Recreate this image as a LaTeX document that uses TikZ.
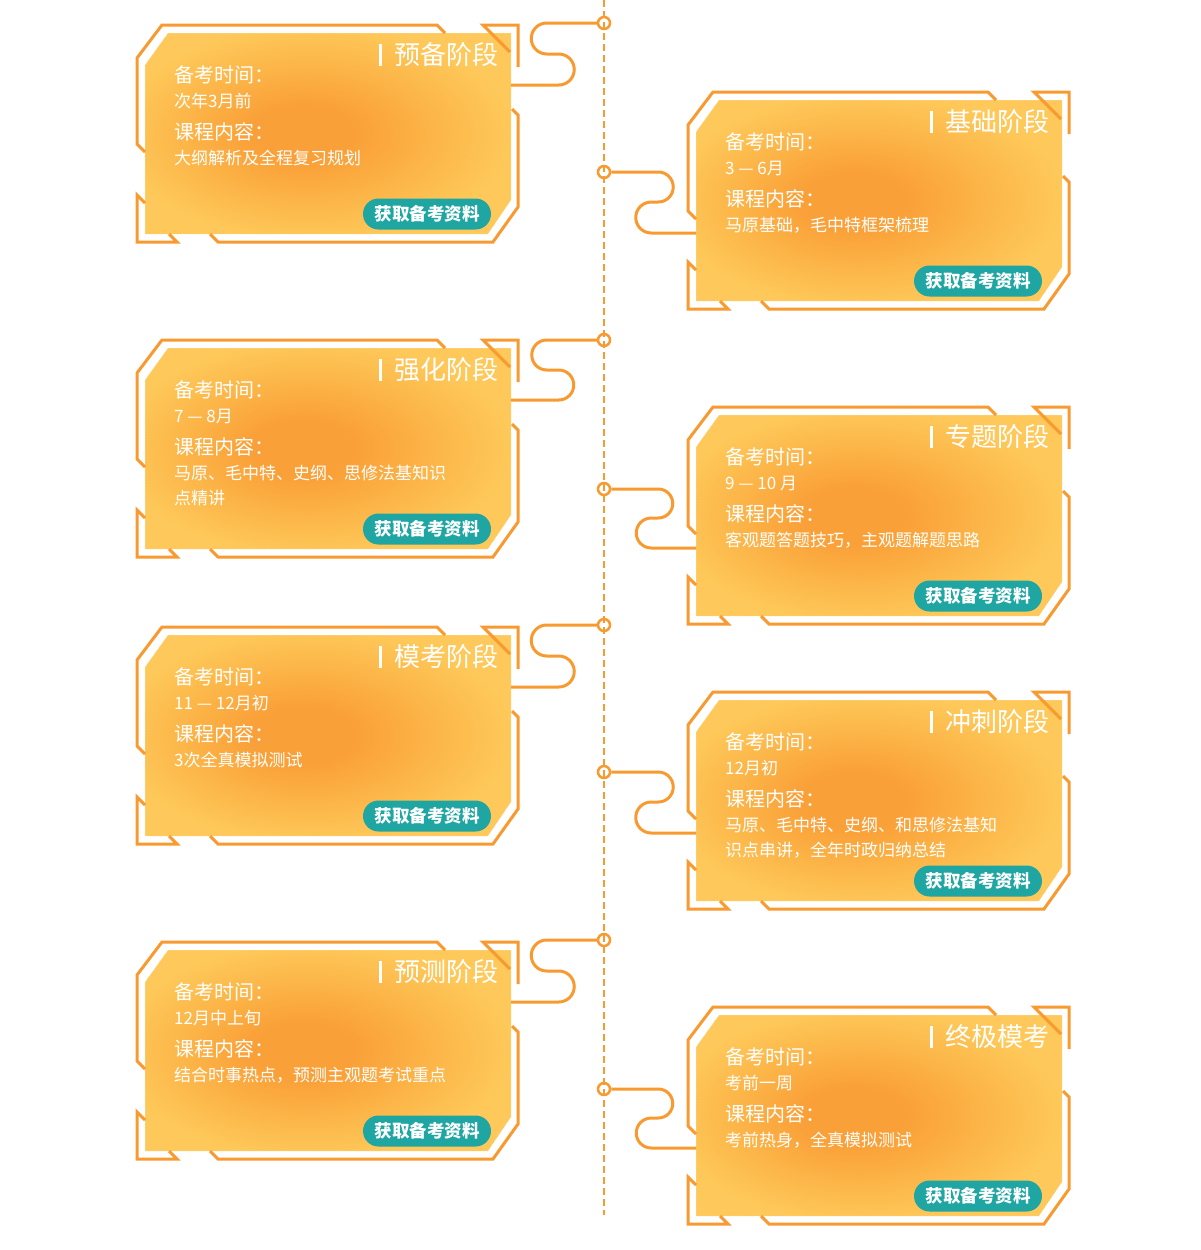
\documentclass[tikz,border=0pt]{standalone}
\usepackage{fontspec}
\setmainfont{Noto Sans CJK SC}
\usepackage{xcolor}
\usepackage{tikz}
\usetikzlibrary{positioning, calc}
\definecolor{stageorange}{HTML}{F89A30}
\definecolor{cardinner}{HTML}{FAA038}
\definecolor{cardmid}{HTML}{FCB548}
\definecolor{cardouter}{HTML}{FEC95A}
\definecolor{btnteal}{HTML}{1FA6A2}
\pgfdeclareradialshading{cardglow}{\pgfpoint{-4bp}{0bp}}{color(0bp)=(cardinner); color(7bp)=(cardinner); color(17bp)=(cardmid); color(27bp)=(cardouter); color(50bp)=(cardouter)}

\tikzset{
    framepiece/.style={draw=stageorange, line width=3pt},
    linkline/.style={draw=stageorange, line width=3pt},
    stagedot/.style={circle, draw=stageorange, fill=white, line width=2.5pt, minimum size=12pt, inner sep=0pt},
    stagetitle/.style={text=white, anchor=west, inner sep=0pt, font=\fontsize{26}{30}\selectfont},
    stagehead/.style={text=white, anchor=west, inner sep=0pt, font=\fontsize{20}{24}\selectfont},
    stagebody/.style={text=white, anchor=west, inner sep=0pt, font=\fontsize{17}{20}\selectfont},
    getbtn/.style={fill=btnteal, text=white, rounded corners=15.5pt, minimum width=128pt, minimum height=31pt, inner sep=0pt, font=\bfseries\fontsize{17.5}{20}\selectfont},
}

% #1 name, #2 frame corner, #3 title, #4 time, #5 content, #6 content (2nd line)
\newcommand{\stagecard}[6]{%
    \begin{scope}[shift={(#2)}]
        \shade[shading=cardglow] (31,8) -- (374,8) -- (374,175) -- (351,209) -- (8,209) -- (8,40) -- cycle;
        \draw[white, densely dotted, line width=0.5pt, opacity=0.7] (31,8) -- (374,8) -- (374,175) -- (351,209) -- (8,209) -- (8,40) -- cycle;
        \draw[framepiece] (8,127) -- (0,119) -- (0,33) -- (25,0) -- (300,0) -- (308,8);
        \draw[framepiece] (8,178) -- (0,170) -- (0,217) -- (40,217) -- (32,209);
        \draw[framepiece] (375,84) -- (381,90) -- (381,182) -- (356,217) -- (81,217) -- (73,209);
        \draw[framepiece] (373,27) -- (346,0) -- (381,0) -- (381,42);
        \draw[white, line width=3pt] (243,19) -- (243,41);
        \node[stagetitle] (#1-title) at (257,30) {#3};
        \node[stagehead] (#1-timehead) at (37,50) {备考时间：};
        \node[stagebody] (#1-time) at (37,76) {#4};
        \node[stagehead] (#1-texthead) at (37,107) {课程内容：};
        \node[stagebody] (#1-text) at (37,133) {#5};
        \node[stagebody] (#1-textb) at (37,158) {#6};
        \node[getbtn] (#1-btn) at (290,189) {获取备考资料};
        \coordinate (#1-r) at (374,60);
        \coordinate (#1-l) at (8,141);
    \end{scope}}

\begin{document}
\begin{tikzpicture}[x=1pt, y=-1pt]
    \useasboundingbox (0,0) rectangle (1200,1250);

    \stagecard{s1}{137,25}{预备阶段}{次年3月前}{大纲解析及全程复习规划}{}
    \stagecard{s2}{688,92}{基础阶段}{3 — 6月}{马原基础，毛中特框架梳理}{}
    \stagecard{s3}{137,340}{强化阶段}{7 — 8月}{马原、毛中特、史纲、思修法基知识}{点精讲}
    \stagecard{s4}{688,407}{专题阶段}{9 — 10 月}{客观题答题技巧，主观题解题思路}{}
    \stagecard{s5}{137,627}{模考阶段}{11 — 12月初}{3次全真模拟测试}{}
    \stagecard{s6}{688,692}{冲刺阶段}{12月初}{马原、毛中特、史纲、和思修法基知}{识点串讲，全年时政归纳总结}
    \stagecard{s7}{137,942}{预测阶段}{12月中上旬}{结合时事热点，预测主观题考试重点}{}
    \stagecard{s8}{688,1007}{终极模考}{考前一周}{考前热身，全真模拟测试}{}

    \node[stagedot] (dot1) at (604,23) {};
    \node[stagedot] (dot2) at (604,172) {};
    \node[stagedot] (dot3) at (604,340) {};
    \node[stagedot] (dot4) at (604,489) {};
    \node[stagedot] (dot5) at (604,625) {};
    \node[stagedot] (dot6) at (604,772) {};
    \node[stagedot] (dot7) at (604,940) {};
    \node[stagedot] (dot8) at (604,1089) {};

    \draw[linkline] (dot1.west) -- ++(-50,0) arc[start angle=90, end angle=270, radius=15.5pt] -- ++(12,0) arc[start angle=90, end angle=-90, radius=15.5pt] -- (s1-r);
    \draw[linkline] (dot3.west) -- ++(-50,0) arc[start angle=90, end angle=270, radius=15pt] -- ++(12,0) arc[start angle=90, end angle=-90, radius=15pt] -- (s3-r);
    \draw[linkline] (dot5.west) -- ++(-50,0) arc[start angle=90, end angle=270, radius=15.5pt] -- ++(12,0) arc[start angle=90, end angle=-90, radius=15.5pt] -- (s5-r);
    \draw[linkline] (dot7.west) -- ++(-50,0) arc[start angle=90, end angle=270, radius=15.5pt] -- ++(12,0) arc[start angle=90, end angle=-90, radius=15.5pt] -- (s7-r);
    \draw[linkline] (dot2.east) -- ++(47,0) arc[start angle=90, end angle=-90, radius=15pt] -- ++(-7,0) arc[start angle=90, end angle=270, radius=15.5pt] -- (s2-l);
    \draw[linkline] (dot4.east) -- ++(47,0) arc[start angle=90, end angle=-90, radius=14.5pt] -- ++(-7,0) arc[start angle=90, end angle=270, radius=15pt] -- (s4-l);
    \draw[linkline] (dot6.east) -- ++(47,0) arc[start angle=90, end angle=-90, radius=15pt] -- ++(-7,0) arc[start angle=90, end angle=270, radius=15.5pt] -- (s6-l);
    \draw[linkline] (dot8.east) -- ++(47,0) arc[start angle=90, end angle=-90, radius=14.5pt] -- ++(-7,0) arc[start angle=90, end angle=270, radius=15pt] -- (s8-l);

    \coordinate (linetop) at (604,0);
    \coordinate (linebot) at (604,1215);
    \draw[stageorange, line width=2.7pt, dash pattern=on 7pt off 4pt] (linetop) -- (linebot);
\end{tikzpicture}
\end{document}
